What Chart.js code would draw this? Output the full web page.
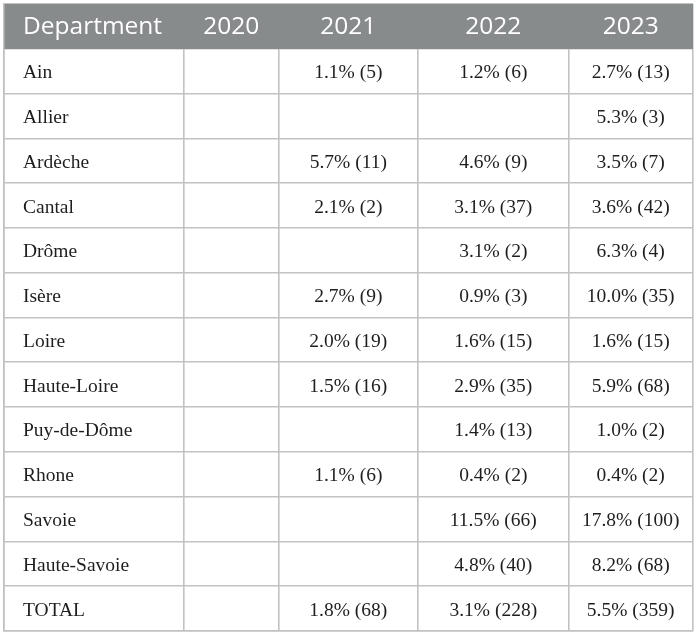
<!DOCTYPE html>
<html>
<head>
<meta charset="utf-8">
<script src="https://cdn.jsdelivr.net/npm/chart.js@4/dist/chart.umd.min.js"></script>
<style>
  body { margin: 0; background: #fff; }
  #wrap { width: 700px; height: 638px; }
</style>
</head>
<body>
<div id="wrap"><canvas id="tableChart" width="700" height="638"></canvas></div>
<script>
// table content
const headerTitle = 'Department';
const years = ['2020', '2021', '2022', '2023'];
const departments = ['Ain', 'Allier', 'Ardèche', 'Cantal', 'Drôme', 'Isère', 'Loire',
  'Haute-Loire', 'Puy-de-Dôme', 'Rhone', 'Savoie', 'Haute-Savoie', 'TOTAL'];

// percentage and count per year, null = empty cell
const pct2020 = [null, null, null, null, null, null, null, null, null, null, null, null, null];
const n2020   = [null, null, null, null, null, null, null, null, null, null, null, null, null];
const pct2021 = [1.1, null, 5.7, 2.1, null, 2.7, 2.0, 1.5, null, 1.1, null, null, 1.8];
const n2021   = [5, null, 11, 2, null, 9, 19, 16, null, 6, null, null, 68];
const pct2022 = [1.2, null, 4.6, 3.1, 3.1, 0.9, 1.6, 2.9, 1.4, 0.4, 11.5, 4.8, 3.1];
const n2022   = [6, null, 9, 37, 2, 3, 15, 35, 13, 2, 66, 40, 228];
const pct2023 = [2.7, 5.3, 3.5, 3.6, 6.3, 10.0, 1.6, 5.9, 1.0, 0.4, 17.8, 8.2, 5.5];
const n2023   = [13, 3, 7, 42, 4, 35, 15, 68, 2, 2, 100, 68, 359];

// layout: column edges along the x scale (1 unit = 1px)
const colEdges = [0, 180.3, 274.3, 414.3, 564.3, 689];
const lineColor = '#c2c2c2';
const headerFill = '#878b8c';

const pctCols = [pct2020, pct2021, pct2022, pct2023];
const nCols = [n2020, n2021, n2022, n2023];
const rowLabels = [headerTitle].concat(departments);

function cellText(col, row) {
  const p = pctCols[col][row];
  if (p === null) return '';
  return p.toFixed(1) + '% (' + nCols[col][row] + ')';
}

// header background as a floating bar on the first row
const headerBar = rowLabels.map((r, i) => i === 0 ? [colEdges[0], colEdges[colEdges.length - 1]] : null);

const tableText = {
  id: 'tableText',
  afterDraw(chart) {
    const ctx = chart.ctx;
    const xs = chart.scales.x;
    const ys = chart.scales.y;
    ctx.save();

    // header row
    let y = ys.getPixelForValue(0);
    ctx.fillStyle = '#ffffff';
    ctx.font = '400 24.5px "Open Sans"';
    ctx.textBaseline = 'alphabetic';
    ctx.textAlign = 'left';
    ctx.fillText(headerTitle, xs.getPixelForValue(colEdges[0]) + 19, y + 8);
    ctx.textAlign = 'center';
    years.forEach((yr, c) => {
      const cx = xs.getPixelForValue((colEdges[c + 1] + colEdges[c + 2]) / 2);
      ctx.fillText(yr, cx, y + 8);
    });

    // body rows
    ctx.fillStyle = '#1e1e1e';
    ctx.font = '19.5px "Liberation Serif"';
    departments.forEach((d, r) => {
      y = ys.getPixelForValue(r + 1);
      ctx.textAlign = 'left';
      ctx.fillText(d, xs.getPixelForValue(colEdges[0]) + 19, y + 7);
      ctx.textAlign = 'center';
      years.forEach((yr, c) => {
        const t = cellText(c, r);
        if (!t) return;
        const cx = xs.getPixelForValue((colEdges[c + 1] + colEdges[c + 2]) / 2);
        ctx.fillText(t, cx, y + 7);
      });
    });
    ctx.restore();
  }
};

new Chart(document.getElementById('tableChart'), {
  type: 'bar',
  data: {
    labels: rowLabels,
    datasets: [{
      data: headerBar,
      backgroundColor: headerFill,
      borderWidth: 0,
      barPercentage: 1,
      categoryPercentage: 1
    }]
  },
  options: {
    indexAxis: 'y',
    responsive: false,
    animation: false,
    layout: { padding: { left: 4, top: 4, right: 7, bottom: 7 } },
    plugins: { legend: { display: false }, tooltip: { enabled: false } },
    scales: {
      x: {
        type: 'linear',
        min: colEdges[0],
        max: colEdges[colEdges.length - 1],
        z: 1,
        afterBuildTicks: s => { s.ticks = colEdges.map(v => ({ value: v })); },
        ticks: { display: false },
        grid: { color: lineColor, lineWidth: 1.6, drawTicks: false },
        border: { color: lineColor, width: 1.6 }
      },
      y: {
        type: 'category',
        offset: true,
        z: 1,
        ticks: { display: false },
        grid: { offset: true, color: lineColor, lineWidth: 1.6, drawTicks: false },
        border: { color: lineColor, width: 1.6 }
      }
    }
  },
  plugins: [tableText]
});
</script>
</body>
</html>
